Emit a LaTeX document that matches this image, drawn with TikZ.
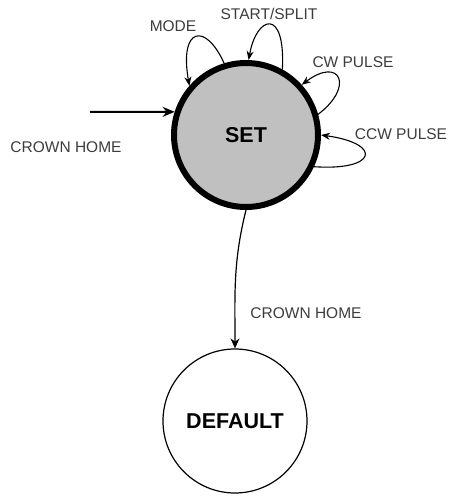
\documentclass[tikz,border=0pt]{standalone}
\usepackage{fontspec}
\setmainfont{Liberation Sans}
\usetikzlibrary{arrows.meta}
\definecolor{stategray}{RGB}{192,192,192}
\definecolor{labelgray}{RGB}{60,60,60}

\begin{document}
\begin{tikzpicture}[x=1pt,y=1pt,
  state/.style={circle,draw,inner sep=0pt,minimum size=144pt,font=\fontsize{21.5}{24}\selectfont\bfseries},
  lbl/.style={text=labelgray,inner sep=0pt,font=\fontsize{15.5}{17}\selectfont},
  loop/.style={line width=1.1pt,-{Stealth[length=9pt,width=7pt]}}]
\useasboundingbox (0,0) rectangle (450,496);
% the two states
\node[state,fill=stategray,line width=6pt] (set) at (246,361) {SET};
\node[state,line width=1.2pt] (default) at (235,75) {DEFAULT};
% entry into SET
\coordinate (entry) at (90,384);
\draw[line width=2pt,-{Stealth[length=12pt,width=10pt]}] (entry) -- (set.162);
\node[lbl] (crownin) at (66,349) {CROWN HOME};
% self loops on SET
\draw[loop] (set.107) .. controls +(114:45) and +(100:60) .. (set.139);
\node[lbl] (mode) at (173,470) {MODE};
\draw[loop] (set.61) .. controls +(87:63) and +(80:45) .. (set.88);
\node[lbl] (startsplit) at (269,482) {START/SPLIT};
\draw[loop] (set.16) .. controls +(37:46) and +(37:48) .. (set.42);
\node[lbl] (cw) at (353,434) {CW PULSE};
\draw[loop] (set.-25) .. controls +(-4:63) and +(-8:63) .. (set.0);
\node[lbl] (ccw) at (401,362) {CCW PULSE};
% back to DEFAULT
\draw[line width=1.2pt,-{Stealth[length=10pt,width=9pt]}] (set.-90) to[out=-104,in=90] (default.north);
\node[lbl] (crownout) at (306,183) {CROWN HOME};
\end{tikzpicture}
\end{document}
